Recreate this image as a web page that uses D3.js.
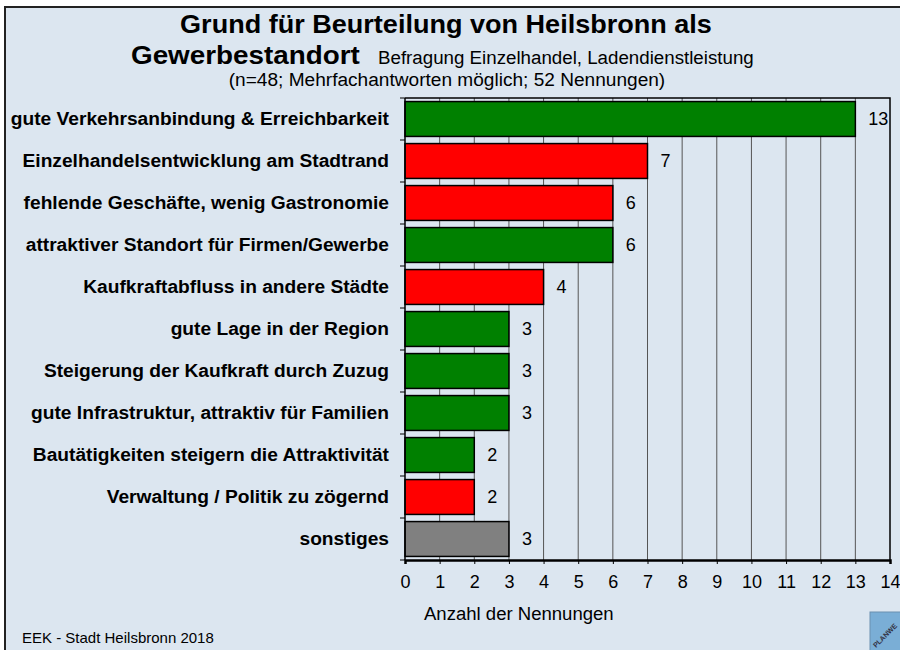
<!DOCTYPE html>
<meta charset="utf-8">
<style>
body { margin: 0; background: #fff; }
text { font-family: "Liberation Sans", Arial, sans-serif; fill: #000; }
.grid line { stroke: #555; stroke-width: 1px; }
</style>
<body>
<script src="https://d3js.org/d3.v7.min.js"></script>
<script>

var width = 900,
    height = 650;

var categories = [
  "gute Verkehrsanbindung & Erreichbarkeit",
  "Einzelhandelsentwicklung am Stadtrand",
  "fehlende Geschäfte, wenig Gastronomie",
  "attraktiver Standort für Firmen/Gewerbe",
  "Kaufkraftabfluss in andere Städte",
  "gute Lage in der Region",
  "Steigerung der Kaufkraft durch Zuzug",
  "gute Infrastruktur, attraktiv für Familien",
  "Bautätigkeiten steigern die Attraktivität",
  "Verwaltung / Politik zu zögernd",
  "sonstiges"
];
var values = [13, 7, 6, 6, 4, 3, 3, 3, 2, 2, 3];
// p = positiv, n = negativ, s = sonstiges
var kinds = ["p", "n", "n", "p", "n", "p", "p", "p", "p", "n", "s"];
var kindColors = {p: "#008000", n: "#ff0000", s: "#808080"};
var xTicks = d3.range(0, 15);

// the original text is rendered a bit wider than Liberation Sans
function widen(sel, k) {
  sel.each(function(){
    var w = this.getComputedTextLength();
    d3.select(this).attr("textLength", w * k).attr("lengthAdjust", "spacingAndGlyphs");
  });
}

var svg = d3.select("body").append("svg")
    .attr("width", width)
    .attr("height", height);

// background panel
svg.append("rect")
  .attr("x", 5).attr("y", 7)
  .attr("width", width).attr("height", height)
  .attr("fill", "#dce6f0")
  .attr("stroke", "#222")
  .attr("stroke-width", 2);

// titles
svg.append("text")
  .attr("x", 446).attr("y", 33)
  .attr("text-anchor", "middle")
  .style("font-size", "26px").style("font-weight", "bold")
  .text("Grund für Beurteilung von Heilsbronn als")
  .call(widen, 1.04);
svg.append("text")
  .attr("x", 131).attr("y", 64)
  .style("font-size", "26px").style("font-weight", "bold")
  .text("Gewerbestandort")
  .call(widen, 1.07);
svg.append("text")
  .attr("x", 378).attr("y", 64)
  .style("font-size", "18px")
  .text("Befragung Einzelhandel,  Ladendienstleistung")
  .call(widen, 1.04);
svg.append("text")
  .attr("x", 447).attr("y", 86)
  .attr("text-anchor", "middle")
  .style("font-size", "18px")
  .text("(n=48; Mehrfachantworten möglich; 52 Nennungen)")
  .call(widen, 1.06);

var x = d3.scaleLinear().domain([0, 14]).range([405, 890]);
var y = d3.scaleBand().domain(categories).range([98, 560])
    .paddingInner(0.17).paddingOuter(0.085);

// vertical grid
svg.append("g").attr("class", "grid")
  .selectAll("line")
  .data(xTicks.slice(1, -1))
  .enter().append("line")
  .attr("x1", function(d){ return x(d); })
  .attr("x2", function(d){ return x(d); })
  .attr("y1", 98).attr("y2", 560);

// frame top / right
svg.append("path")
  .attr("d", "M" + x(0) + ",98H" + x(14) + "V560")
  .attr("fill", "none").attr("stroke", "#000").attr("stroke-width", 1.5);

// bars
svg.selectAll(".bar")
  .data(categories)
  .enter().append("rect")
  .attr("class", "bar")
  .attr("x", x(0))
  .attr("y", function(d){ return y(d); })
  .attr("width", function(d, i){ return x(values[i]) - x(0); })
  .attr("height", y.bandwidth())
  .attr("fill", function(d, i){ return kindColors[kinds[i]]; })
  .attr("stroke", "#000")
  .attr("stroke-width", 1.5);

// value labels
svg.selectAll(".val")
  .data(categories)
  .enter().append("text")
  .attr("class", "val")
  .attr("x", function(d, i){ return x(values[i]) + 13; })
  .attr("y", function(d){ return y(d) + y.bandwidth() / 2; })
  .attr("dy", "0.36em")
  .style("font-size", "18px")
  .text(function(d, i){ return values[i]; });

// category labels
svg.selectAll(".cat")
  .data(categories)
  .enter().append("text")
  .attr("class", "cat")
  .attr("x", 389)
  .attr("y", function(d){ return y(d) + y.bandwidth() / 2; })
  .attr("dy", "0.36em")
  .attr("text-anchor", "end")
  .style("font-size", "18px").style("font-weight", "bold")
  .text(function(d){ return d; })
  .call(widen, 1.065);

// y axis line + ticks at band boundaries
var bounds = d3.range(categories.length + 1).map(function(i){ return 98 + i * y.step() * (462 / (y.step() * categories.length)); });
svg.append("line")
  .attr("x1", x(0)).attr("x2", x(0)).attr("y1", 98).attr("y2", 560)
  .attr("stroke", "#000").attr("stroke-width", 1.5);
svg.selectAll(".ytick")
  .data(bounds)
  .enter().append("line")
  .attr("x1", x(0) - 5).attr("x2", x(0))
  .attr("y1", function(d){ return d; }).attr("y2", function(d){ return d; })
  .attr("stroke", "#000");

// x axis
var xAxis = svg.append("g")
  .attr("transform", "translate(0,560)")
  .call(d3.axisBottom(x).tickValues(xTicks).tickSize(4).tickPadding(11));
xAxis.select(".domain").attr("stroke", "#000").attr("stroke-width", 2.5);
xAxis.selectAll("text")
  .style("font-size", "18px")
  .style("font-family", "'Liberation Sans', Arial, sans-serif");

svg.append("text")
  .attr("x", 424).attr("y", 620)
  .style("font-size", "18px")
  .text("Anzahl der Nennungen")
  .call(widen, 1.03);

svg.append("text")
  .attr("x", 22).attr("y", 643)
  .style("font-size", "15px")
  .text("EEK - Stadt Heilsbronn 2018");

// logo corner
var logo = svg.append("g").attr("transform", "translate(870,612)");
logo.append("rect")
  .attr("width", 40).attr("height", 50)
  .attr("fill", "#7aaed6").attr("stroke", "#6a8fb0");
logo.append("text")
  .attr("transform", "translate(6,36) rotate(-45)")
  .style("font-size", "7px").style("font-weight", "bold")
  .style("fill", "#334")
  .text("PLANWE");

</script>
